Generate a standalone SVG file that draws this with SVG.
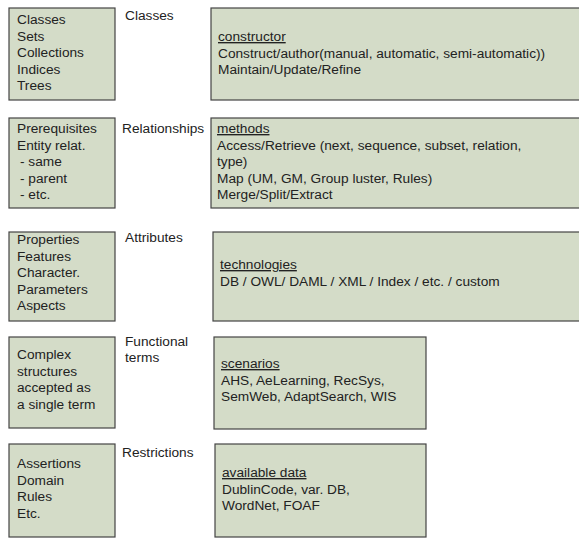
<svg xmlns="http://www.w3.org/2000/svg" width="579" height="539" viewBox="0 0 579 539">
<style>
.box{fill:#d4dcc8;stroke:#444;stroke-width:1.2}
text{font-family:"Liberation Sans",Arial,sans-serif;font-size:13.7px;fill:#222}
.u{text-decoration:underline}
</style>
<rect width="579" height="539" fill="#fff"/>
<g id="connectors"></g>

<g id="left1">
<rect class="box" x="9" y="8" width="106" height="92"/>
<text x="17" y="24">Classes</text>
<text x="17" y="40.5">Sets</text>
<text x="17" y="57">Collections</text>
<text x="17" y="73.5">Indices</text>
<text x="17" y="90">Trees</text>
</g>
<g id="label1"><text x="125" y="20">Classes</text></g>
<g id="right1">
<rect class="box" x="211" y="8" width="370" height="92"/>
<text x="218" y="41" class="u">constructor</text>
<text x="218" y="57.5">Construct/author(manual, automatic, semi-automatic))</text>
<text x="218" y="74">Maintain/Update/Refine</text>
</g>

<g id="left2">
<rect class="box" x="9" y="118" width="106" height="90"/>
<text x="17" y="133">Prerequisites</text>
<text x="17" y="149.5">Entity relat.</text>
<text x="20" y="166">- same</text>
<text x="20" y="182.5">- parent</text>
<text x="20" y="199">- etc.</text>
</g>
<g id="label2"><text x="122" y="133">Relationships</text></g>
<g id="right2">
<rect class="box" x="211" y="118" width="370" height="90"/>
<text x="217" y="133" class="u">methods</text>
<text x="217" y="149.5">Access/Retrieve (next, sequence, subset, relation,</text>
<text x="217" y="166">type)</text>
<text x="217" y="182.5">Map (UM, GM, Group luster, Rules)</text>
<text x="217" y="199">Merge/Split/Extract</text>
</g>

<g id="left3">
<rect class="box" x="9" y="232" width="106" height="89"/>
<text x="17" y="244">Properties</text>
<text x="17" y="260.5">Features</text>
<text x="17" y="277">Character.</text>
<text x="17" y="293.5">Parameters</text>
<text x="17" y="310">Aspects</text>
</g>
<g id="label3"><text x="125" y="242">Attributes</text></g>
<g id="right3">
<rect class="box" x="213" y="232" width="368" height="89"/>
<text x="220" y="269" class="u">technologies</text>
<text x="220" y="285.5">DB / OWL/ DAML / XML / Index / etc. / custom</text>
</g>

<g id="left4">
<rect class="box" x="9" y="337" width="106" height="91"/>
<text x="17" y="359">Complex</text>
<text x="17" y="375.5">structures</text>
<text x="17" y="392">accepted as</text>
<text x="17" y="408.5">a single term</text>
</g>
<g id="label4"><text x="125" y="346">Functional</text><text x="125" y="362">terms</text></g>
<g id="right4">
<rect class="box" x="214" y="337" width="212" height="92"/>
<text x="221" y="368" class="u">scenarios</text>
<text x="221" y="384.5">AHS, AeLearning, RecSys,</text>
<text x="221" y="401">SemWeb, AdaptSearch, WIS</text>
</g>

<g id="left5">
<rect class="box" x="9" y="444" width="106" height="93"/>
<text x="17" y="468">Assertions</text>
<text x="17" y="484.5">Domain</text>
<text x="17" y="501">Rules</text>
<text x="17" y="517.5">Etc.</text>
</g>
<g id="label5"><text x="122" y="457">Restrictions</text></g>
<g id="right5">
<rect class="box" x="215" y="444" width="211" height="93"/>
<text x="222" y="477" class="u">available data</text>
<text x="222" y="493.5">DublinCode, var. DB,</text>
<text x="222" y="510">WordNet, FOAF</text>
</g>
</svg>
